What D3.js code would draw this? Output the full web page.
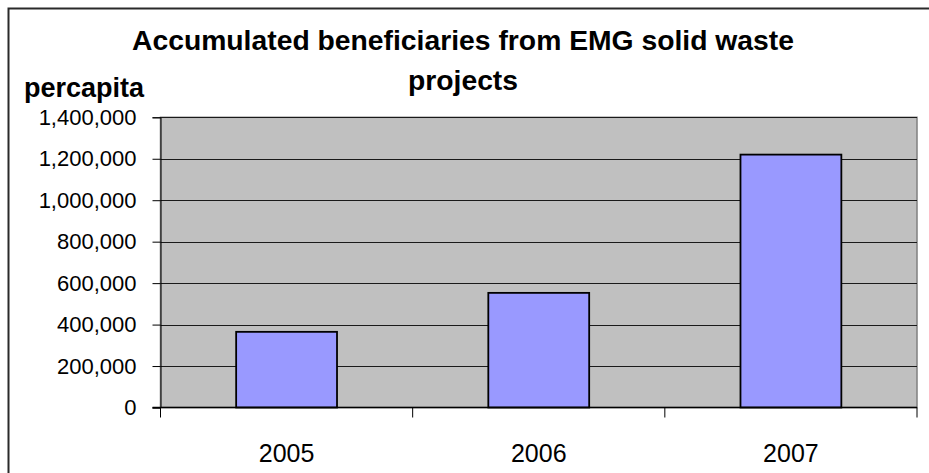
<!DOCTYPE html>
<html>
<head>
<meta charset="utf-8">
<script src="https://cdn.jsdelivr.net/npm/d3@7/dist/d3.min.js"></script>
<style>
  html, body { margin: 0; padding: 0; background: #fff; }
  svg { display: block; font-family: "Liberation Sans", Arial, sans-serif; }
</style>
</head>
<body>
<svg id="chart" width="929" height="473"></svg>
<script>
// Accumulated beneficiaries per year
const categories = ["2005", "2006", "2007"];
const beneficiaries = [365000, 553000, 1220000];
const yTicks = [0, 200000, 400000, 600000, 800000, 1000000, 1200000, 1400000];
const titleLines = ["Accumulated beneficiaries from EMG solid waste", "projects"];
const yAxisTitle = "percapita";

const svg = d3.select("#chart");

// Chart frame (runs past the right and bottom edges)
svg.append("rect")
  .attr("x", 8.5).attr("y", 8.5)
  .attr("width", 940).attr("height", 500)
  .attr("fill", "#fff")
  .attr("stroke", "#2a2a2a").attr("stroke-width", 2);

const plot = { left: 160.5, right: 917, top: 117.3, bottom: 407.5 };

const x = d3.scaleBand()
  .domain(categories)
  .range([plot.left, plot.right])
  .paddingInner(0.6).paddingOuter(0.3);

const xBand = d3.scaleBand()
  .domain(categories)
  .range([plot.left, plot.right]);

const y = d3.scaleLinear()
  .domain([0, 1400000])
  .range([plot.bottom, plot.top]);

// Plot area background
svg.append("rect")
  .attr("x", plot.left).attr("y", plot.top)
  .attr("width", plot.right - plot.left).attr("height", plot.bottom - plot.top)
  .attr("fill", "#c0c0c0")
  .attr("stroke", "#808080").attr("stroke-width", 1.5);

// Horizontal gridlines
svg.append("g")
  .selectAll("line")
  .data(yTicks.filter(d => d > 0))
  .join("line")
  .attr("x1", plot.left).attr("x2", plot.right)
  .attr("y1", d => Math.round(y(d)) + 0.5).attr("y2", d => Math.round(y(d)) + 0.5)
  .attr("stroke", "#1a1a1a").attr("stroke-width", 1.2);

// Bars
svg.append("g")
  .selectAll("rect")
  .data(categories.map((c, i) => ({ c, v: beneficiaries[i] })))
  .join("rect")
  .attr("x", d => x(d.c))
  .attr("y", d => y(d.v))
  .attr("width", x.bandwidth())
  .attr("height", d => y(0) - y(d.v))
  .attr("fill", "#9999ff")
  .attr("stroke", "#000").attr("stroke-width", 1.8);

// Y axis
const yAxis = d3.axisLeft(y)
  .tickValues(yTicks)
  .tickSize(8)
  .tickPadding(16)
  .tickFormat(d3.format(","));
const gy = svg.append("g")
  .attr("transform", `translate(${plot.left},0)`)
  .call(yAxis);
gy.select(".domain").attr("stroke", "#000");
gy.selectAll(".tick line").attr("stroke", "#000");
gy.selectAll(".tick text")
  .attr("font-size", 22)
  .attr("fill", "#000")
  .attr("font-family", "Liberation Sans, Arial, sans-serif");

// X axis: ticks at category boundaries
const gx = svg.append("g")
  .attr("transform", `translate(0,${plot.bottom})`);
gx.append("line")
  .attr("x1", plot.left - 8).attr("x2", plot.right)
  .attr("y1", 0).attr("y2", 0)
  .attr("stroke", "#000").attr("stroke-width", 1.5);
const boundaries = categories.map(c => xBand(c)).concat([xBand(categories[categories.length - 1]) + xBand.bandwidth()]);
gx.selectAll("line.tick")
  .data(boundaries)
  .join("line")
  .attr("class", "tick")
  .attr("x1", d => d).attr("x2", d => d)
  .attr("y1", 0).attr("y2", 10)
  .attr("stroke", "#000");
gx.selectAll("text")
  .data(categories)
  .join("text")
  .attr("x", d => xBand(d) + xBand.bandwidth() / 2)
  .attr("y", 54)
  .attr("text-anchor", "middle")
  .attr("font-size", 25)
  .attr("fill", "#000")
  .text(d => d);

// Title
svg.append("g")
  .selectAll("text")
  .data(titleLines)
  .join("text")
  .attr("x", 463)
  .attr("y", (d, i) => 50 + i * 40)
  .attr("text-anchor", "middle")
  .attr("font-size", 28.3)
  .attr("font-weight", "bold")
  .attr("fill", "#000")
  .text(d => d);

// Value axis title
svg.append("text")
  .attr("x", 24)
  .attr("y", 97)
  .attr("font-size", 27)
  .attr("font-weight", "bold")
  .attr("fill", "#000")
  .text(yAxisTitle);
</script>
</body>
</html>
